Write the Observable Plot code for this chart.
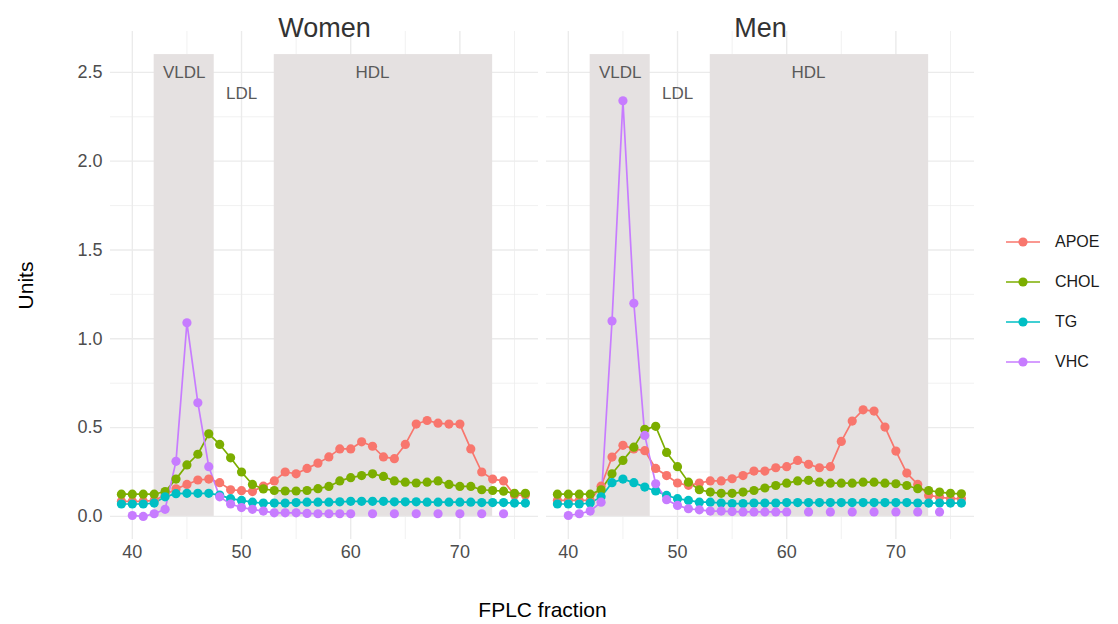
<!DOCTYPE html>
<html>
<head>
<meta charset="utf-8">
<script src="https://cdn.jsdelivr.net/npm/d3@7"></script>
<script src="https://cdn.jsdelivr.net/npm/@observablehq/plot@0.6"></script>
<style>
  body { margin: 0; background: #fff; font-family: "Liberation Sans", Arial, sans-serif; }
  #wrap { position: relative; width: 1118px; height: 624px; }
  #legend { position: absolute; left: 1004px; top: 222px; }
  .item { display: flex; align-items: center; height: 40px; font-size: 16px; color: #1a1a1a; }
  .item svg { margin-right: 13px; }
</style>
</head>
<body>
<div id="wrap"><div id="legend"></div></div>
<script>
// ---- data ----
const sexes = ["Women", "Men"];
const seriesNames = ["APOE", "CHOL", "TG", "VHC"];
const seriesColors = ["#F8766D", "#7CAE00", "#00BFC4", "#C77CFF"];
const fractions = [39,40,41,42,43,44,45,46,47,48,49,50,51,52,53,54,55,56,57,58,59,60,61,62,63,64,65,66,67,68,69,70,71,72,73,74,75,76];

const womenAPOE = [0.085,0.085,0.085,0.09,0.12,0.155,0.18,0.205,0.21,0.19,0.15,0.145,0.14,0.17,0.2,0.25,0.24,0.27,0.3,0.335,0.38,0.38,0.42,0.395,0.335,0.325,0.405,0.52,0.54,0.525,0.52,0.52,0.38,0.25,0.21,0.2,0.12,0.12];
const womenCHOL = [0.125,0.125,0.125,0.125,0.14,0.21,0.29,0.35,0.465,0.405,0.33,0.25,0.18,0.155,0.146,0.143,0.143,0.146,0.156,0.169,0.2,0.218,0.23,0.24,0.225,0.2,0.193,0.188,0.193,0.2,0.18,0.169,0.169,0.15,0.146,0.142,0.13,0.13];
const womenTG   = [0.07,0.07,0.07,0.075,0.11,0.128,0.13,0.13,0.13,0.12,0.1,0.09,0.08,0.075,0.075,0.075,0.078,0.08,0.08,0.08,0.082,0.085,0.085,0.085,0.085,0.082,0.082,0.082,0.08,0.08,0.08,0.08,0.08,0.078,0.078,0.078,0.075,0.075];
const womenVHC  = [null,0.005,0.0,0.015,0.04,0.31,1.09,0.64,0.28,0.11,0.07,0.05,0.04,0.03,0.02,0.02,0.02,0.017,0.015,0.015,0.015,0.015,null,0.015,null,0.015,null,0.015,null,0.015,null,0.015,null,0.015,null,0.015,null,null];

const menAPOE = [0.09,0.09,0.09,0.09,0.17,0.334,0.4,0.38,0.37,0.27,0.23,0.188,0.175,0.188,0.2,0.2,0.212,0.23,0.255,0.255,0.274,0.28,0.315,0.293,0.274,0.28,0.422,0.537,0.6,0.593,0.503,0.368,0.244,0.18,0.118,0.109,0.1,0.1];
const menCHOL = [0.125,0.125,0.125,0.125,0.15,0.24,0.315,0.39,0.49,0.507,0.36,0.28,0.193,0.15,0.137,0.13,0.13,0.137,0.146,0.16,0.174,0.187,0.2,0.203,0.193,0.187,0.187,0.187,0.193,0.193,0.187,0.184,0.174,0.156,0.146,0.137,0.13,0.127];
const menTG   = [0.07,0.07,0.07,0.075,0.11,0.19,0.21,0.19,0.165,0.143,0.118,0.1,0.09,0.08,0.08,0.075,0.072,0.072,0.075,0.075,0.075,0.078,0.078,0.078,0.078,0.078,0.078,0.078,0.078,0.078,0.078,0.078,0.078,0.075,0.075,0.075,0.075,0.075];
const menVHC  = [null,0.005,0.015,0.03,0.08,1.1,2.34,1.2,0.456,0.184,0.094,0.062,0.043,0.037,0.03,0.03,0.027,0.025,0.025,0.025,0.025,0.025,null,0.025,null,0.025,null,0.025,null,0.025,null,0.025,null,0.025,null,0.025,null,null];

const yTicks = [0, 0.5, 1, 1.5, 2, 2.5];
const yMinor = [0.25, 0.75, 1.25, 1.75, 2.25];
const xTicks = [40, 50, 60, 70];
const xMinor = [45, 55, 65, 75];

const regionStart = [42, 53];
const regionEnd = [47.5, 73];
const regionBottom = [0, 0];
const regionTop = [2.6, 2.6];
const labelNames = ["VLDL", "LDL", "HDL"];
const labelX = [44.75, 50, 62];
const labelY = [2.5, 2.38, 2.5];

// ---- build tables ----
const seriesBySex = {
  Women: [womenAPOE, womenCHOL, womenTG, womenVHC],
  Men: [menAPOE, menCHOL, menTG, menVHC]
};
const rows = [];
for (const sex of sexes) {
  seriesBySex[sex].forEach((vals, si) => {
    fractions.forEach((f, i) => {
      rows.push({sex, series: seriesNames[si], fraction: f, value: vals[i] == null ? NaN : vals[i]});
    });
  });
}
const regions = regionStart.map((s, i) => ({x1: s, x2: regionEnd[i], y1: regionBottom[i], y2: regionTop[i]}));
const labels = labelNames.map((n, i) => ({name: n, x: labelX[i], y: labelY[i]}));

const grid = "#ebebeb";
const chart = Plot.plot({
  width: 1118,
  height: 624,
  marginLeft: 109,
  marginRight: 143,
  marginTop: 31,
  marginBottom: 85,
  style: {fontFamily: '"Liberation Sans", Arial, sans-serif', background: "transparent"},
  x: {domain: [38.0, 77.2]},
  y: {domain: [-0.13, 2.73]},
  fx: {domain: sexes, paddingInner: 0.0183, paddingOuter: 0, label: "FPLC fraction"},
  color: {domain: seriesNames, range: seriesColors},
  marks: [
    Plot.gridY(yMinor, {stroke: grid, strokeOpacity: 1, strokeWidth: 0.7}),
    Plot.gridX(xMinor, {stroke: grid, strokeOpacity: 1, strokeWidth: 0.7}),
    Plot.gridY(yTicks, {stroke: grid, strokeOpacity: 1, strokeWidth: 1.4}),
    Plot.gridX(xTicks, {stroke: grid, strokeOpacity: 1, strokeWidth: 1.4}),
    Plot.rect(regions, {x1: "x1", x2: "x2", y1: "y1", y2: "y2", fill: "#e5e1e1"}),
    Plot.text(labels, {x: "x", y: "y", text: "name", fill: "#5a5a5a", fontSize: 17}),
    Plot.line(rows, {x: "fraction", y: "value", z: "series", stroke: "series", fx: "sex", strokeWidth: 1.7}),
    Plot.dot(rows, {x: "fraction", y: "value", fill: "series", fx: "sex", r: 4.6}),
    Plot.axisY(yTicks, {tickSize: 0, tickPadding: 8, fontSize: 18, color: "#4d4d4d", tickFormat: d3.format(".1f"),
      label: "Units", labelAnchor: "center", labelOffset: 92, labelArrow: "none"}),
    Plot.axisX(xTicks, {tickSize: 0, tickPadding: 6, fontSize: 18, color: "#4d4d4d", label: null}),
    Plot.axisFx({anchor: "top", tickSize: 0, tickPadding: -5, fontSize: 27, color: "#333", label: null}),
    Plot.axisFx({anchor: "bottom", ticks: [], tickSize: 0, label: "FPLC fraction", labelAnchor: "center", labelOffset: 77, labelArrow: "none"})
  ]
});
document.getElementById("wrap").prepend(chart);

// style axis titles
chart.querySelectorAll("g[aria-label='y-axis label'] text, g[aria-label='fx-axis label'] text").forEach(t => {
  t.setAttribute("font-size", "21");
  t.style.fontSize = "21px";
  t.setAttribute("fill", "#000");
});

// legend
const legend = document.getElementById("legend");
seriesNames.forEach((name, i) => {
  const item = document.createElement("div");
  item.className = "item";
  item.innerHTML = `<svg width="38" height="20"><line x1="2" x2="36" y1="10" y2="10" stroke="${seriesColors[i]}" stroke-width="1.7"/><circle cx="19" cy="10" r="4.6" fill="${seriesColors[i]}"/></svg><span>${name}</span>`;
  legend.appendChild(item);
});
</script>
</body>
</html>
